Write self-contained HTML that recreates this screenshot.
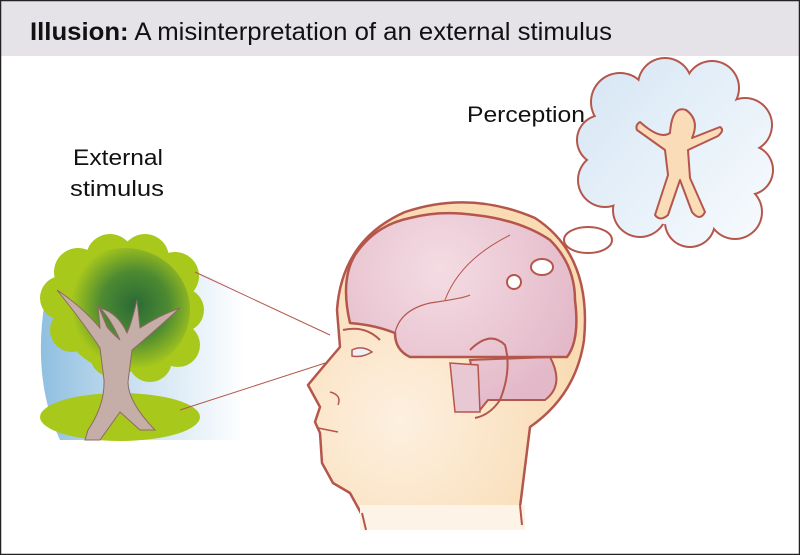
<!DOCTYPE html>
<html><head><meta charset="utf-8"><style>
html,body{margin:0;padding:0;background:#fff}
svg{display:block}
</style></head><body>
<svg width="800" height="555" viewBox="0 0 800 555" xmlns="http://www.w3.org/2000/svg">
<defs>
<linearGradient id="sky" x1="0" y1="0" x2="1" y2="0">
<stop offset="0" stop-color="#8fbfe0"/><stop offset="0.5" stop-color="#cfe3f2"/><stop offset="1" stop-color="#ffffff"/>
</linearGradient>
<radialGradient id="fol" gradientUnits="userSpaceOnUse" cx="135" cy="305" r="75">
<stop offset="0" stop-color="#2a6a35"/><stop offset="0.45" stop-color="#4d8a32"/><stop offset="0.85" stop-color="#a8c81c"/><stop offset="1" stop-color="#a8c81c"/>
</radialGradient>
<linearGradient id="cloud" gradientUnits="userSpaceOnUse" x1="580" y1="70" x2="770" y2="245">
<stop offset="0" stop-color="#d6e6f4"/><stop offset="1" stop-color="#f8fbfe"/>
</linearGradient>
<radialGradient id="skin" gradientUnits="userSpaceOnUse" cx="400" cy="420" r="180">
<stop offset="0" stop-color="#fdf0e0"/><stop offset="1" stop-color="#f9dcb4"/>
</radialGradient>
<radialGradient id="brain" gradientUnits="userSpaceOnUse" cx="440" cy="270" r="150">
<stop offset="0" stop-color="#f4dce3"/><stop offset="1" stop-color="#e3b8c8"/>
</radialGradient>
</defs>
<rect x="0" y="0" width="800" height="555" fill="#fff"/>
<rect x="0" y="0" width="800" height="56" fill="#e5e2e8"/>
<rect x="0.5" y="0.5" width="799" height="554" fill="none" stroke="#222" stroke-width="1.5"/>
<text x="30" y="40" font-family="Liberation Sans Narrow, Liberation Sans, sans-serif" font-size="25" fill="#111" textLength="582" lengthAdjust="spacingAndGlyphs"><tspan font-weight="bold">Illusion:</tspan> A misinterpretation of an external stimulus</text>

<!-- tree -->
<path d="M45,300 Q80,290 190,270 L245,290 L240,440 L60,440 Q32,380 45,300 Z" fill="url(#sky)"/>
<ellipse cx="120" cy="417" rx="80" ry="24" fill="#a8c81c"/>
<g fill="#a8c81c">
<circle cx="78" cy="272" r="24"/><circle cx="110" cy="258" r="24"/><circle cx="145" cy="258" r="24"/><circle cx="175" cy="276" r="24"/>
<circle cx="182" cy="310" r="22"/><circle cx="178" cy="345" r="22"/><circle cx="150" cy="360" r="22"/><circle cx="112" cy="355" r="22"/><circle cx="72" cy="330" r="22"/><circle cx="62" cy="298" r="22"/>
</g>
<ellipse cx="125" cy="310" rx="65" ry="62" fill="url(#fol)"/>
<path d="M88,430 Q105,405 104,380 L100,348 Q85,325 57,290 Q80,305 100,328 L98,305 L107,327 Q112,333 120,340 Q110,318 100,308 Q118,313 127,333 Q132,322 137,300 L140,328 Q160,315 180,308 Q150,335 132,350 L128,382 Q128,402 155,430 L140,430 L120,412 L100,440 L85,440 Z" fill="#c6aea8" stroke="#8c6a60" stroke-width="1"/>
<line x1="195" y1="272" x2="330" y2="335" stroke="#b5564c" stroke-width="1"/>
<line x1="180" y1="410" x2="350" y2="355" stroke="#b5564c" stroke-width="1"/>

<!-- head -->
<path d="M362,515 L350,493 L333,483 L322,463 L320,433 L315,422 L320,407 L308,385 L323,367 L340,347 L337,310 Q342,240 405,212 Q470,190 535,218 Q592,255 584,340 Q576,395 530,427 L520,507 Z" fill="url(#skin)" stroke="#b5564c" stroke-width="2.5" stroke-linejoin="round"/>
<rect x="360" y="505" width="165" height="25" fill="#fdf3e6"/>
<line x1="362" y1="513" x2="366" y2="530" stroke="#b5564c" stroke-width="2"/>
<line x1="520" y1="505" x2="522" y2="525" stroke="#b5564c" stroke-width="2"/>
<path d="M343,330 Q365,325 380,340" fill="none" stroke="#b5564c" stroke-width="2"/>
<path d="M352,350 Q362,345 372,352 Q362,358 352,356 Z" fill="#eef2f8" stroke="#b5564c" stroke-width="1.5"/>
<path d="M330,392 Q342,395 338,405" fill="none" stroke="#b5564c" stroke-width="1.5"/>
<path d="M318,428 L338,432" stroke="#b5564c" stroke-width="1.5"/>

<!-- brain -->
<path d="M470,360 L480,410 L488,400 L495,400 L545,400 Q565,385 550,357 Z" fill="url(#brain)" stroke="#b5564c" stroke-width="2"/>
<path d="M450,363 L455,412 L480,412 L478,365 Z" fill="#e8c8d2" stroke="#b5564c" stroke-width="1.5"/>
<path d="M350,323 Q340,280 355,255 Q375,225 410,218 Q440,210 475,215 Q520,220 550,240 Q575,265 575,300 Q580,340 567,357 L410,357 Q395,350 395,333 Q375,325 350,323 Z" fill="url(#brain)" stroke="#b5564c" stroke-width="2.5" stroke-linejoin="round"/>
<path d="M395,333 Q400,310 430,303 Q465,298 470,295" fill="none" stroke="#b5564c" stroke-width="1.2"/>
<path d="M445,300 Q460,260 510,235" fill="none" stroke="#b5564c" stroke-width="1"/>
<path d="M470,350 Q490,330 505,345 Q512,370 500,400 Q490,415 475,418" fill="none" stroke="#b5564c" stroke-width="2"/>
<ellipse cx="542" cy="267" rx="11" ry="8" fill="#fff" stroke="#b5564c" stroke-width="2"/>
<ellipse cx="514" cy="282" rx="7" ry="7" fill="#fff" stroke="#b5564c" stroke-width="2"/>

<!-- cloud -->
<ellipse cx="588" cy="240" rx="24" ry="13" fill="#fff" stroke="#b5564c" stroke-width="2"/>
<g fill="#b5564c">
<circle cx="620" cy="102" r="30"/><circle cx="665" cy="85" r="28"/><circle cx="712" cy="88" r="28"/><circle cx="745" cy="125" r="28"/>
<circle cx="748" cy="170" r="26"/><circle cx="735" cy="212" r="28"/><circle cx="690" cy="222" r="26"/><circle cx="640" cy="210" r="28"/><circle cx="605" cy="180" r="28"/><circle cx="602" cy="140" r="26"/>
</g>
<g fill="url(#cloud)">
<circle cx="620" cy="102" r="28"/><circle cx="665" cy="85" r="26"/><circle cx="712" cy="88" r="26"/><circle cx="745" cy="125" r="26"/>
<circle cx="748" cy="170" r="24"/><circle cx="735" cy="212" r="26"/><circle cx="690" cy="222" r="24"/><circle cx="640" cy="210" r="26"/><circle cx="605" cy="180" r="26"/><circle cx="602" cy="140" r="24"/>
<ellipse cx="676" cy="155" rx="75" ry="70"/>
</g>
<path d="M670,133 Q660,140 640,122 Q635,125 637,130 L665,150 L668,175 L655,215 Q660,222 668,215 L680,180 L692,212 Q700,222 705,212 L690,178 L688,150 L718,136 Q725,130 720,127 L692,138 Q700,120 686,110 Q672,105 670,133 Z" fill="#fbdcb8" stroke="#b5564c" stroke-width="2" stroke-linejoin="round"/>

<text x="467" y="122" font-family="Liberation Sans Narrow, Liberation Sans, sans-serif" font-size="22" fill="#111" textLength="118" lengthAdjust="spacingAndGlyphs">Perception</text>
<text x="73" y="165" font-family="Liberation Sans Narrow, Liberation Sans, sans-serif" font-size="22" fill="#111" textLength="90" lengthAdjust="spacingAndGlyphs">External</text>
<text x="70" y="196" font-family="Liberation Sans Narrow, Liberation Sans, sans-serif" font-size="22" fill="#111" textLength="94" lengthAdjust="spacingAndGlyphs">stimulus</text>
</svg>
</body></html>
